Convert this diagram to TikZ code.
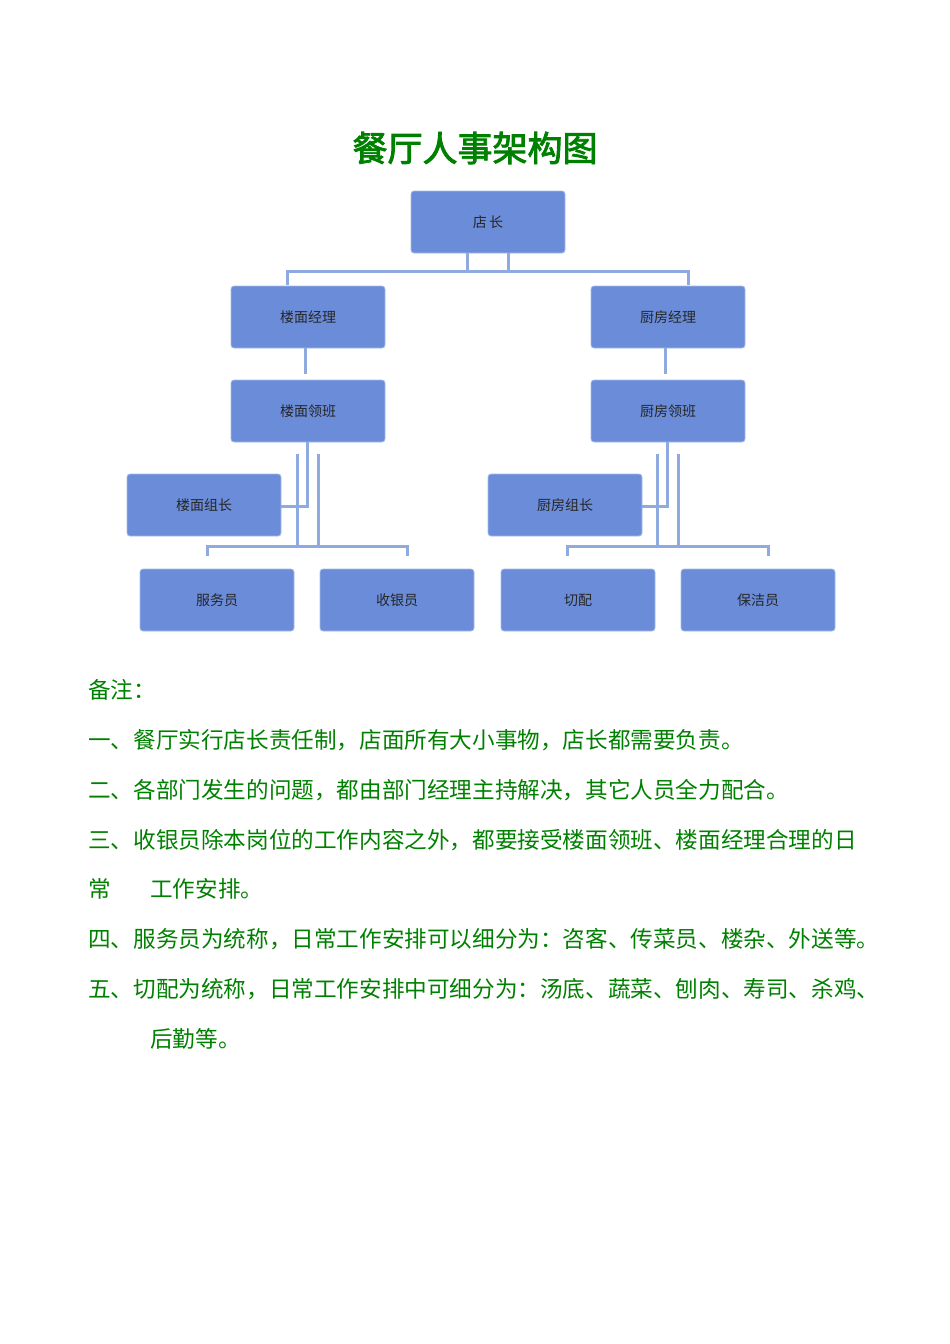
\documentclass[tikz,border=0pt]{standalone}
\usepackage{fontspec}
\newfontfamily\cjk{Noto Sans CJK SC}
\newfontfamily\cjkb[FakeBold=2.5]{Noto Sans CJK SC}
\definecolor{boxc}{RGB}{106,140,217}
\definecolor{linec}{RGB}{142,170,223}
\definecolor{txtg}{RGB}{0,128,0}
\begin{document}
\begin{tikzpicture}[x=1pt,y=-1pt,
  bx/.style={draw=boxc!60!white,line width=0.8pt,fill=boxc,rounded corners=3pt,minimum width=154pt,minimum height=62pt,inner sep=0pt,font=\cjk\fontsize{14pt}{14pt}\selectfont,text=black!85},
  ln/.style={draw=linec,line width=3pt},
  note/.style={anchor=west,inner sep=0pt,font=\cjk\fontsize{22.6pt}{23pt}\selectfont,text=txtg}]
\useasboundingbox (0,0) rectangle (950,1344);
\node[font=\cjkb\fontsize{35pt}{36pt}\selectfont,text=txtg] (title) at (475,148) {餐厅人事架构图};
\node[bx] (dz) at (488,222) {店\,长};
\node[bx] (lmjl) at (308,317) {楼面经理};
\node[bx] (cfjl) at (668,317) {厨房经理};
\node[bx] (lmlb) at (308,411) {楼面领班};
\node[bx] (cflb) at (668,411) {厨房领班};
\node[bx] (lmzz) at (204,505) {楼面组长};
\node[bx] (cfzz) at (565,505) {厨房组长};
\node[bx] (fwy) at (217,600) {服务员};
\node[bx] (syy) at (397,600) {收银员};
\node[bx] (qp) at (578,600) {切配};
\node[bx] (bjy) at (758,600) {保洁员};
% top connectors
\draw[ln] (467,253) -- (467,271);
\draw[ln] (508,253) -- (508,271);
\draw[ln] (287,285) -- (287,271) -- (688,271) -- (688,285);
\draw[ln] (305,348) -- (305,374);
\draw[ln] (665,348) -- (665,374);
% left group
\draw[ln] (307.5,442) -- (307.5,506) -- (lmzz.east |- 0,506);
\draw[ln] (297,454) -- (297,546);
\draw[ln] (318,454) -- (318,546);
\draw[ln] (207,556) -- (207,546) -- (407,546) -- (407,556);
% right group
\draw[ln] (667.5,442) -- (667.5,506) -- (cfzz.east |- 0,506);
\draw[ln] (657,454) -- (657,546);
\draw[ln] (678,454) -- (678,546);
\draw[ln] (567,556) -- (567,546) -- (768,546) -- (768,556);
% notes
\node[note] (n0) at (88,690) {备注：};
\node[note] (n1) at (88,740) {一、餐厅实行店长责任制，店面所有大小事物，店长都需要负责。};
\node[note] (n2) at (88,790) {二、各部门发生的问题，都由部门经理主持解决，其它人员全力配合。};
\node[note] (n3) at (88,840) {三、收银员除本岗位的工作内容之外，都要接受楼面领班、楼面经理合理的日};
\node[note] (n4) at (88,889) {常};
\node[note] (n4b) at (150,889) {工作安排。};
\node[note] (n5) at (88,939) {四、服务员为统称，日常工作安排可以细分为：咨客、传菜员、楼杂、外送等。};
\node[note] (n6) at (88,989) {五、切配为统称，日常工作安排中可细分为：汤底、蔬菜、刨肉、寿司、杀鸡、};
\node[note] (n6b) at (150,1039) {后勤等。};
\end{tikzpicture}
\end{document}
